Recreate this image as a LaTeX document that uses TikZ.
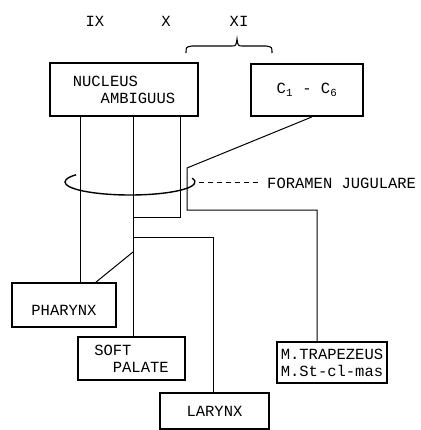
\documentclass[tikz,border=0pt]{standalone}
\usepackage{fontspec}
\setmonofont{Liberation Mono}
\tikzset{
  nervbox/.style={
    draw,
    line width=1.8pt,
    inner sep=0pt,
    align=left,
    font=\ttfamily\fontsize{15.5}{17}\selectfont
  },
  nervtext/.style={
    inner sep=0pt,
    font=\ttfamily\fontsize{15.5}{17}\selectfont
  },
  nervline/.style={line width=1pt},
  nervring/.style={line width=1.4pt}
}

\begin{document}
\begin{tikzpicture}[x=1pt,y=-1pt]
  \useasboundingbox (0,0) rectangle (420,430);
  \node[nervtext] (ix) at (95,21) {IX};
  \node[nervtext] (x) at (166,21) {X};
  \node[nervtext] (xi) at (239,21) {XI};
  \draw[nervline,line width=1.1pt] (186,53) .. controls (186,47) .. (192,46) -- (231,46)
    .. controls (236,46) .. (237,39) .. controls (238,46) .. (243,46) -- (266,46)
    .. controls (272,47) .. (272,53);
  \node[nervbox,minimum width=148pt,minimum height=53pt] (nucleus) at (124,89.5) {NUCLEUS\\\phantom{NUC}AMBIGUUS};
  \node[nervbox,minimum width=112pt,minimum height=52pt] (cbox) at (307,90) {C\textsubscript{1}~- C\textsubscript{6}};
  \node[nervbox,minimum width=104pt,minimum height=44pt,text height=20pt,text depth=0pt] (pharynx) at (64,305) {PHARYNX};
  \node[nervbox,minimum width=107pt,minimum height=43pt] (palate) at (131.5,358.5) {SOFT\\\phantom{SO}PALATE};
  \node[nervbox,minimum width=109pt,minimum height=36pt] (larynx) at (214.5,411) {LARYNX};
  \node[nervbox,minimum width=110pt,minimum height=41pt] (trapez) at (332,362.5) {M.TRAPEZEUS\\M.St-cl-mas};
  \node[nervtext,anchor=west] (foramen) at (267,183) {FORAMEN JUGULARE};
  \coordinate (xjoin) at (133,217);
  \coordinate (lxbranch) at (133,237);
  \coordinate (phbranch) at (133,252);
  \coordinate (xibend) at (187,168);
  \coordinate (xiturn) at (187,210);
  \coordinate (ringright) at (199,183);
  \draw[nervline] ([xshift=-44pt]nucleus.south) -- ([xshift=16pt]pharynx.north);
  \draw[nervline] ([xshift=9pt]nucleus.south) -- ([xshift=1.5pt]palate.north);
  \draw[nervline] ([xshift=56pt]nucleus.south) |- (xjoin);
  \draw[nervline] (lxbranch) -| ([xshift=-1.5pt]larynx.north);
  \draw[nervline] (phbranch) -- ([xshift=32pt]pharynx.north);
  \draw[nervline] ([xshift=5pt]cbox.south) -- (xibend) -- (xiturn) -| ([xshift=-15pt]trapez.north);
  \draw[nervring] (130,182) ++(214:65 and 13) arc[start angle=214,end angle=-17,x radius=65,y radius=13];
  \draw[nervline,dash pattern=on 5pt off 4pt] (ringright) -- ([xshift=-8pt]foramen.west);
\end{tikzpicture}
\end{document}
